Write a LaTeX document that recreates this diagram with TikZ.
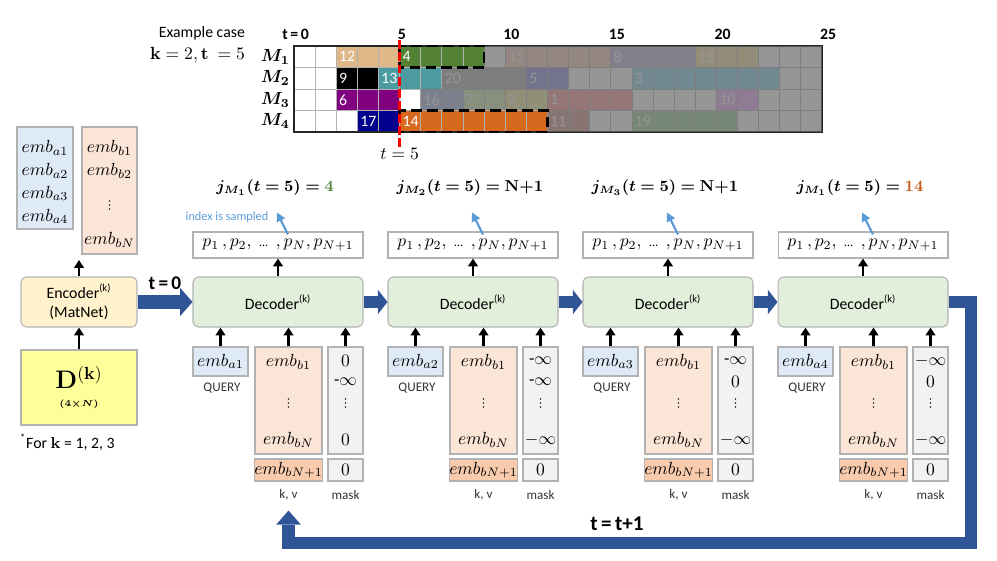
\documentclass[tikz,border=0pt]{standalone}
\usepackage{amsmath,amssymb}
\usepackage{bm}
\usepackage[no-math]{fontspec}
\setmainfont{Carlito}
\usepackage{xcolor}
\usepackage{tikz}
\usetikzlibrary{calc,arrows.meta,positioning}
\definecolor{embA}{RGB}{222,235,247}
\definecolor{embB}{RGB}{251,229,214}
\definecolor{embBB}{RGB}{248,203,173}
\definecolor{maskg}{RGB}{242,242,242}
\definecolor{decg}{RGB}{226,239,218}
\definecolor{ency}{RGB}{255,242,204}
\definecolor{dyel}{RGB}{255,255,153}
\definecolor{flowc}{RGB}{47,85,151}
\definecolor{samp}{RGB}{91,155,213}
\definecolor{jgreen}{RGB}{84,130,53}
\definecolor{jorange}{RGB}{197,90,17}
\definecolor{fog}{RGB}{105,105,105}
% visible jobs
\definecolor{tanc}{RGB}{222,184,135}
\definecolor{greenc}{RGB}{84,130,53}
\definecolor{tealc}{RGB}{75,155,160}
\definecolor{purpc}{RGB}{128,0,128}
\definecolor{navyc}{RGB}{0,0,140}
\definecolor{orangec}{RGB}{215,105,30}
% jobs behind the fog
\definecolor{c15}{RGB}{250,205,185}
\definecolor{c8}{RGB}{195,185,225}
\definecolor{c18}{RGB}{245,225,160}
\definecolor{c20}{RGB}{175,175,175}
\definecolor{c5}{RGB}{140,140,230}
\definecolor{c3}{RGB}{140,215,245}
\definecolor{c16}{RGB}{170,185,225}
\definecolor{c7}{RGB}{210,235,180}
\definecolor{c2}{RGB}{245,235,160}
\definecolor{c1}{RGB}{250,150,150}
\definecolor{c10}{RGB}{235,170,250}
\definecolor{c11}{RGB}{210,145,140}
\definecolor{c19}{RGB}{155,210,155}
% row/start/length/colour/job
\newcommand{\joblist}{0/2/3/tanc/12, 0/5/4/greenc/4, 0/10/5/c15/15, 0/15/4/c8/8, 0/19/3/c18/18,
  1/2/2/black/9, 1/4/3/tealc/13, 1/7/4/c20/20, 1/11/2/c5/5, 1/16/7/c3/3,
  2/2/3/purpc/6, 2/6/2/c16/16, 2/8/2/c7/7, 2/10/2/c2/2, 2/12/4/c1/1, 2/20/2/c10/10,
  3/3/2/navyc/17, 3/5/7/orangec/14, 3/12/2/c11/11, 3/16/5/c19/19}

\begin{document}
\begin{tikzpicture}[
  x=0.02cm, y=-0.02cm,
  every node/.style={font=\small, inner sep=1pt},
  box/.style={draw=black!30, line width=0.6pt, inner sep=0pt},
  decbox/.style={box, rounded corners=3pt, fill=decg, minimum width=3.4cm, minimum height=1cm},
  probbox/.style={box, fill=white, minimum width=3.4cm, minimum height=0.52cm, font=\normalsize},
  qbox/.style={box, fill=embA, minimum width=1.1cm, minimum height=0.58cm, font=\normalsize},
  kvbox/.style={box, fill=embB, minimum width=1.34cm, minimum height=2.14cm},
  mkbox/.style={box, fill=maskg, minimum width=0.7cm, minimum height=2.14cm},
  kvxbox/.style={box, fill=embBB, minimum width=1.34cm, minimum height=0.44cm, font=\normalsize},
  mkxbox/.style={box, fill=maskg, minimum width=0.7cm, minimum height=0.44cm, font=\normalsize},
  mkval/.style={font=\normalsize, inner sep=0pt},
  tag/.style={font=\fontsize{7.5}{9}\selectfont, text=black!80},
  up/.style={-{Triangle[length=4.5pt,width=5.5pt]}, line width=1.2pt},
  pick/.style={-{Triangle[length=5pt,width=5pt]}, line width=1.2pt, samp},
  flow/.style={-{Triangle[length=5.5pt,width=14pt,line width=0pt]}, line width=7pt, flowc},
  flowbig/.style={-{Triangle[length=7pt,width=16pt,line width=0pt]}, line width=8.5pt, flowc},
  jobno/.style={text=white, font=\small, inner sep=1.5pt, anchor=west},
  tick/.style={font=\small\bfseries, inner sep=0pt, anchor=west},
  chosen/.style={draw=black, line width=1.4pt, dash pattern=on 6pt off 3pt},
  vdot/.style={fill=black!85},
]
\useasboundingbox (0,0) rectangle (997,561);

% example case schedule
\node[anchor=east] (excase) at (247,33) {Example case};
\node[anchor=east, font=\normalsize] (exval) at (247,55) {$\mathbf{k} = 2, \mathbf{t}\ = 5$};
\begin{scope}[shift={(294,46)}, x=0.4224cm, y=-0.43cm]
  \foreach \jr/\js/\jl/\jc/\jn in \joblist
    \fill[\jc] (\js,\jr) rectangle ++(\jl,1);
  \foreach \k in {1,...,24}
    \draw[black!30, line width=0.4pt] (\k,0) -- (\k,4);
  \foreach \k in {1,2,3}
    \draw[black!30, line width=0.4pt] (0,\k) -- (25,\k);
  \foreach \jr/\js/\jl/\jc/\jn in \joblist
    \node[jobno] (job\jn) at (\js,\jr+0.5) {\jn};
  \draw[black!85, line width=0.8pt] (0,0) rectangle (25,4);
  \fill[fog, opacity=0.7] (9,0) -- (25,0) -- (25,4) -- (12,4) -- (12,3) -- (6,3)
    -- (6,2) -- (7,2) -- (7,1) -- (9,1) -- cycle;
  \draw[chosen] (5,0) rectangle (9,1);
  \draw[chosen] (5,3) rectangle (12,4);
  \draw[red, line width=1.6pt, dash pattern=on 5pt off 2pt] (5,-0.28) -- (5,4.7);
  \node[font=\normalsize] (tnow) at (5,5.02) {$t=5$};
  \node[tick] (tk0) at (-0.57,-0.56) {t\,=\,0};
  \foreach \v in {5,10,15,20,25}
    \node[tick] (tk\v) at (\v-0.1,-0.56) {\v};
  \foreach \k in {1,...,4}
    \node[anchor=east, font=\normalsize] (mrow\k) at (-0.1,\k-0.5) {$\bm{M_{\k}}$};
\end{scope}

% encoder side
\node[box, fill=embA, minimum width=1.12cm, minimum height=2.04cm] (embAbox) at (45,178) {};
\node[anchor=north, align=center, inner sep=0pt, font=\fontsize{10}{13}\selectfont] (embAtxt) at (45,140)
  {$emb_{a1}$\\$emb_{a2}$\\$emb_{a3}$\\$emb_{a4}$};
\node[box, fill=embB, minimum width=1.1cm, minimum height=2.54cm] (embBbox) at (109.5,190.5) {};
\node[anchor=north, align=center, inner sep=0pt, font=\fontsize{10}{13}\selectfont] (embBtxt) at (109.5,140)
  {$emb_{b1}$\\$emb_{b2}$};
\coordinate (embBdots) at (109.5,205);
\foreach \d in {-4,0,4}
  \fill[vdot] ($(embBdots)+(0,\d)$) circle (0.55pt);
\node[font=\normalsize] (embBN) at (109.5,240) {$emb_{bN}$};
\node[box, rounded corners=3pt, fill=ency, minimum width=2.32cm, minimum height=1cm, align=center] (enc) at (79,302)
  {Encoder\textsuperscript{(k)}\\(MatNet)};
\node[box, fill=dyel, minimum width=2.32cm, minimum height=1.5cm, align=center] (dmat) at (79,387.5)
  {{\Large$\mathbf{D}^{\mathbf{(k)}}$}\\[-1pt]{\tiny$\boldsymbol{(4{\times}N)}$}};
\node[anchor=west] (note) at (18,442) {\textsuperscript{*}For $\mathbf{k}$ = 1, 2, 3};
\coordinate (encup) at (79,260);
\draw[up] (dmat.north) -- (enc.south);
\draw[up] (enc.north) -- (encup);

% decoder steps
\foreach \i/\mtop/\msec/\mlow/\jm/\jv in {
  0/{$0$}/{-$\infty$}/{$0$}/1/{\textcolor{jgreen}{4}},
  1/{-$\infty$}/{-$\infty$}/{$-\infty$}/2/{N{+}1},
  2/{-$\infty$}/{$0$}/{$-\infty$}/3/{N{+}1},
  3/{$-\infty$}/{$0$}/{$-\infty$}/1/{\textcolor{jorange}{14}}}{
  \pgfmathsetmacro\bx{193+195*\i}
  \pgfmathtruncatemacro\an{\i+1}
  \node[decbox] (dec\i) at (\bx+85,302) {Decoder\textsuperscript{(k)}};
  \node[probbox] (p\i) at (\bx+85,245) {$p_1\,, p_2,$\ \ {\scriptsize\ldots}\ \ $,p_N, p_{N+1}$};
  \node[font=\small] (jl\i) at (\bx+82,188) {$\boldsymbol{j_{M_{\jm}}(t=5)=\mathbf{\jv}}$};
  \coordinate (s\i) at ($(p\i.north)+(-1,-19)$);
  \draw[up] (dec\i.north) -- (p\i.south);
  \draw[pick] ($(p\i.north)+(10,3)$) -- (s\i);
  \node[qbox] (q\i) at (\bx+27.5,361.5) {$emb_{a\an}$};
  \node[tag] (qt\i) at (\bx+29,388) {QUERY};
  \node[kvbox] (kv\i) at (\bx+95.5,400.5) {};
  \node[font=\normalsize] (kva\i) at (\bx+95.5,362) {$emb_{b1}$};
  \coordinate (kvd\i) at (\bx+95.5,403);
  \node[font=\normalsize] (kvz\i) at (\bx+95.5,440) {$emb_{bN}$};
  \node[mkbox] (mk\i) at (\bx+152.5,400.5) {};
  \node[mkval] (mka\i) at (\bx+152.5,361) {\mtop};
  \node[mkval] (mkb\i) at (\bx+152.5,382) {\msec};
  \coordinate (mkd\i) at (\bx+152.5,403);
  \node[mkval] (mkz\i) at (\bx+152.5,440) {\mlow};
  \foreach \d in {-4,0,4} {
    \fill[vdot] ($(kvd\i)+(0,\d)$) circle (0.55pt);
    \fill[vdot] ($(mkd\i)+(0,\d)$) circle (0.55pt);
  }
  \node[kvxbox] (kvx\i) at (\bx+95.5,470) {$emb_{bN+1}$};
  \node[mkxbox] (mkx\i) at (\bx+152.5,470) {$0$};
  \node[tag] (kvt\i) at (\bx+95.5,495) {k, v};
  \node[tag] (mkt\i) at (\bx+152.5,495) {mask};
  \draw[up] (q\i.north) -- (q\i.north |- dec\i.south);
  \draw[up] (kv\i.north) -- (kv\i.north |- dec\i.south);
  \draw[up] (mk\i.north) -- (mk\i.north |- dec\i.south);
}
\node[font=\scriptsize, text=samp] (idx) at (227,217) {index is sampled};

% time flow
\node[font=\fontsize{11}{13}\selectfont\bfseries] (tzero) at (165,283) {t\,=\,0};
\draw[flowbig] (enc.east) -- (dec0.west);
\foreach \a/\b in {0/1,1/2,2/3}
  \draw[flow] (dec\a.east) -- (dec\b.west);
\coordinate (loopR) at (971,543);
\coordinate (loopEnd) at ($(kvt0.south)+(0,8)$);
\draw[-{Triangle[length=8pt,width=14pt,line width=0pt]}, line width=7pt, flowc] (dec3.east) -| (loopR) -| (loopEnd);
\node[font=\large\bfseries] (tinc) at (617,524) {t\,=\,t+1};
\end{tikzpicture}
\end{document}
